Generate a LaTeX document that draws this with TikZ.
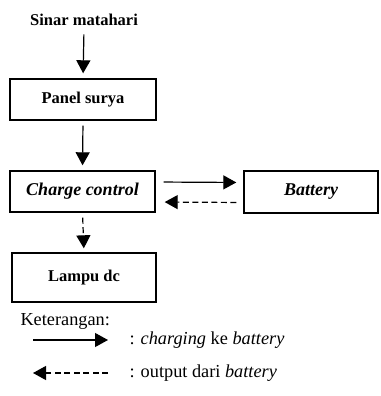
\documentclass[tikz,border=0pt]{standalone}
\usepackage{fontspec}
\setmainfont{Liberation Serif}
\usepackage{tikz}
\usetikzlibrary{arrows.meta,positioning,calc}

\begin{document}
\begin{tikzpicture}[x=1pt,y=-1pt,font=\fontsize{18.3}{21}\selectfont,
  blok/.style={draw,line width=1.4pt,minimum height=41pt,inner sep=0pt},
  judul/.style={font=\fontsize{16.5}{19}\selectfont\bfseries},
  miring/.style={font=\fontsize{18}{21}\selectfont\bfseries\itshape},
  panah/.style={line width=1.2pt,-{Triangle[length=13pt,width=14pt]}},
  putus/.style={panah,dash pattern=on 6pt off 3.5pt}]
  \useasboundingbox (0,0) rectangle (380,396);
  % blok utama
  \node[judul] (sinar) at (84,20) {Sinar matahari};
  \node[blok,judul,minimum width=146pt] (panel) at (83,99.5) {Panel surya};
  \node[blok,miring,minimum width=145pt] (charge) at (82.5,191.5) {Charge control};
  \node[blok,miring,minimum width=134pt,minimum height=42pt] (battery) at (311,192) {Battery};
  \node[blok,judul,minimum width=144pt,minimum height=49pt] (lampu) at (84,277.5) {Lampu dc};
  % aliran
  \draw[panah,shorten <=5pt,shorten >=5pt] (sinar.south) -- (panel.north);
  \draw[panah,shorten <=5pt,shorten >=5pt] (panel.south) -- (charge.north);
  \draw[panah,shorten <=8pt,shorten >=7pt] ([yshift=9.5pt]charge.east) -- ([yshift=9.5pt]battery.west);
  \draw[putus,shorten <=7pt,shorten >=9pt] ([yshift=-10.5pt]battery.west) -- ([yshift=-10.5pt]charge.east);
  \draw[putus,shorten <=5pt,shorten >=4pt] (charge.south) -- (lampu.north);
  % keterangan
  \node[anchor=west] (ket) at (17,321) {Keterangan:};
  \coordinate (a1) at (33,340);
  \coordinate (b1) at (108,340);
  \coordinate (a2) at (108,373);
  \coordinate (b2) at (33,373);
  \draw[panah] (a1) -- (b1);
  \draw[putus] (a2) -- (b2);
  \node[anchor=west] (lg1) at (126,340) {: \textit{charging} ke \textit{battery}};
  \node[anchor=west] (lg2) at (126,373) {: output dari \textit{battery}};
\end{tikzpicture}
\end{document}
